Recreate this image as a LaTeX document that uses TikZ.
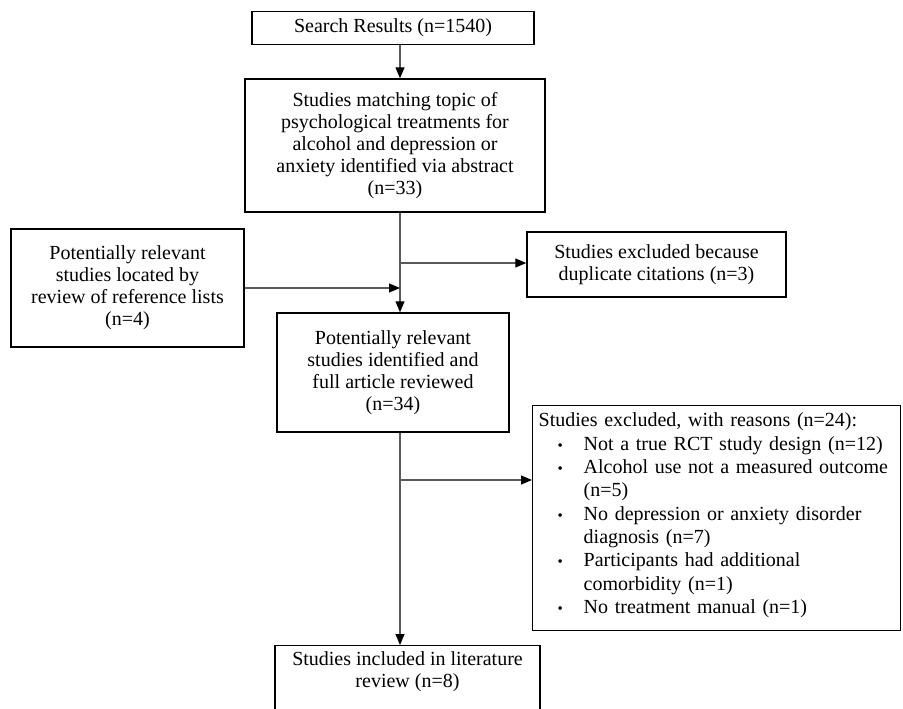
\documentclass[tikz,border=0pt]{standalone}
\usepackage{fontspec}
\setmainfont{Liberation Serif}
\usetikzlibrary{arrows.meta,calc}
\newcommand\myitem[1]{\hspace*{19pt}\makebox[26pt][l]{\fontsize{15}{15}\selectfont\textbullet}#1}
\newcommand\mycont[1]{\hspace*{45pt}#1}
\begin{document}
\begin{tikzpicture}[x=1pt,y=1pt,
  box/.style={draw=black, line width=1.4pt, align=center, inner sep=0pt,
    font=\fontsize{20}{22}\selectfont},
  conn/.style={draw=black!65, line width=1.1pt},
  arr/.style={conn, -{Triangle[length=11pt,width=9pt,color=black]}}]
\useasboundingbox (0,0) rectangle (903,-709);
\coordinate (mx) at (400,0);
\node[box, minimum width=282, minimum height=33] (b1) at (393,-28) {Search Results (n=1540)};
\node[box, minimum width=300, minimum height=133] (b2) at (395,-145.5)
  {Studies matching topic of\\psychological treatments for\\alcohol and depression or\\anxiety identified via abstract\\(n=33)};
\node[box, minimum width=233, minimum height=118] (b3) at (127.5,-288)
  {Potentially relevant\\studies located by\\review of reference lists\\(n=4)};
\node[box, minimum width=259, minimum height=65] (b4) at (656.5,-264.5)
  {Studies excluded because\\duplicate citations (n=3)};
\node[box, minimum width=232, minimum height=119] (b5) at (393,-372.5)
  {Potentially relevant\\studies identified and\\full article reviewed\\(n=34)};
\node[box, anchor=north west, align=left, inner xsep=6pt, text width=356, minimum height=225,
  font=\fontsize{20}{23.3}\selectfont] (b6) at (532,-405)
  {Studies excluded, with reasons (n=24):\\
   \myitem{Not a true RCT study design (n=12)}\\
   \myitem{Alcohol use not a measured outcome}\\
   \mycont{(n=5)}\\
   \myitem{No depression or anxiety disorder}\\
   \mycont{diagnosis (n=7)}\\
   \myitem{Participants had additional}\\
   \mycont{comorbidity (n=1)}\\
   \myitem{No treatment manual (n=1)}\rule[-10pt]{0pt}{0pt}};
\node[box, anchor=north, minimum width=265, minimum height=66] (b7) at (407.5,-645)
  {Studies included in literature\\review (n=8)\rule[-18pt]{0pt}{0pt}};
\coordinate (j1) at (400,-263);
\coordinate (j2) at (400,-480);
\draw[arr] (b1.south -| mx) -- (b2.north -| mx);
\draw[arr] (b2.south -| mx) -- (b5.north -| mx);
\draw[arr] (j1) -- (j1 -| b4.west);
\draw[arr] (b3.east) -- (b3.east -| mx);
\draw[arr] (b5.south -| mx) -- (b7.north -| mx);
\draw[arr] (j2) -- (j2 -| b6.west);
\end{tikzpicture}
\end{document}
